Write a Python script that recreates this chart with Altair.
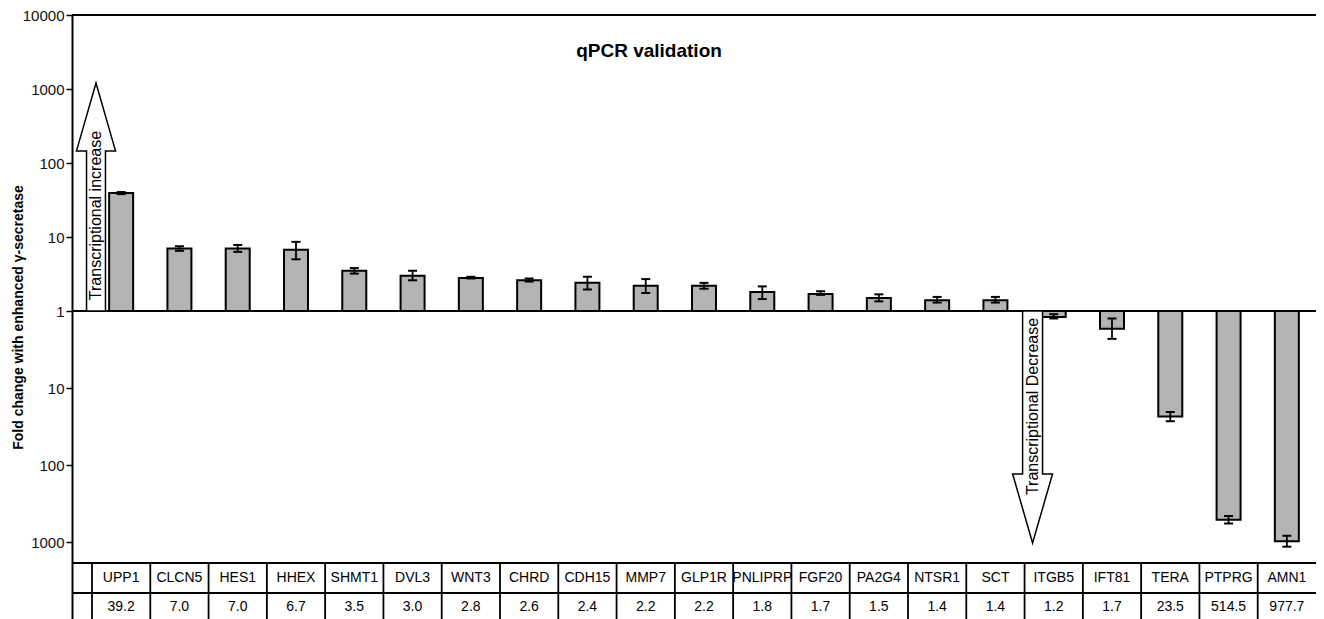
import math
import altair as alt
import pandas as pd

# ---------------- data ----------------
genes = ["UPP1", "CLCN5", "HES1", "HHEX", "SHMT1", "DVL3", "WNT3", "CHRD", "CDH15",
         "MMP7", "GLP1R", "PNLIPRP", "FGF20", "PA2G4", "NTSR1", "SCT", "ITGB5",
         "IFT81", "TERA", "PTPRG", "AMN1"]
fold = [39.2, 7.0, 7.0, 6.7, 3.5, 3.0, 2.8, 2.6, 2.4, 2.2, 2.2, 1.8, 1.7, 1.5, 1.4,
        1.4, 1.2, 1.7, 23.5, 514.5, 977.7]
direction = [1] * 16 + [-1] * 5          # 1 = increase, -1 = decrease
err_low = [38.0, 6.5, 6.3, 5.0, 3.2, 2.6, 2.75, 2.5, 1.95, 1.75, 2.0, 1.45, 1.65,
           1.35, 1.3, 1.3, 1.1, 1.25, 20.5, 460, 830]
err_high = [40.5, 7.5, 7.8, 8.6, 3.8, 3.5, 2.9, 2.75, 2.9, 2.7, 2.4, 2.15, 1.85,
            1.68, 1.55, 1.55, 1.25, 2.3, 27, 575, 1150]
tick_values = [4, 3, 2, 1, 0, -1, -2, -3]

df = pd.DataFrame({
    "gene": genes,
    "fold": fold,
    "y": [d * math.log10(v) for d, v in zip(direction, fold)],
    "ylo": [d * math.log10(v) for d, v in zip(direction, err_low)],
    "yhi": [d * math.log10(v) for d, v in zip(direction, err_high)],
    "label": [f"{v:.1f}" for v in fold],
})

# ---------------- layout ----------------
W, H = 1244, 604
FONT = "Liberation Sans"
Y_BOTTOM = -3.0 - (H - 296 - 231) / 77.0
TABLE_TOP = -3.273
ROW_DIV = -3.662
GENE_ROW = -3.468
VALUE_ROW = -3.85

x_scale = alt.Scale(domain=genes, range=[20, W], paddingInner=0, paddingOuter=0)
y_scale = alt.Scale(domain=[Y_BOTTOM, 0, 4], range=[H, 296, 0], nice=False, zero=False)

y_axis = alt.Axis(
    values=tick_values,
    labelExpr="'' + pow(10, abs(datum.value))",
    title="Fold change with enhanced \u03b3-secretase",
    grid=False, domainColor="black", domainWidth=2,
    tickColor="black", tickWidth=1.5, tickSize=6,
    labelFont=FONT, labelFontSize=15, labelColor="#111111", labelPadding=2,
    titleFont=FONT, titleFontSize=14, titleFontWeight="bold", titleColor="black",
    titlePadding=-3,
)

base = alt.Chart(df)

bars = base.mark_bar(size=24, fill="#b3b3b3", stroke="black", strokeWidth=2).encode(
    x=alt.X("gene:N", scale=x_scale, axis=None, sort=genes),
    y=alt.Y("y:Q", scale=y_scale, axis=y_axis),
    y2=alt.datum(0),
)

err_rule = base.mark_rule(color="black", strokeWidth=1.8).encode(
    x="gene:N", y="ylo:Q", y2="yhi:Q")
cap_lo = base.mark_tick(color="black", size=9, thickness=2, opacity=1).encode(
    x="gene:N", y="ylo:Q")
cap_hi = base.mark_tick(color="black", size=9, thickness=2, opacity=1).encode(
    x="gene:N", y="yhi:Q")

frame = alt.Chart(pd.DataFrame({"yy": [4, 0, TABLE_TOP, ROW_DIV]})).mark_rule(
    color="black", strokeWidth=2).encode(y="yy:Q")

vrules = base.mark_rule(color="black", strokeWidth=1.8).encode(
    x=alt.X("gene:N", bandPosition=0),
    y=alt.datum(TABLE_TOP), y2=alt.datum(Y_BOTTOM))

gene_text = base.mark_text(font=FONT, fontSize=14, color="black").encode(
    x="gene:N", y=alt.datum(GENE_ROW), text="gene:N")
value_text = base.mark_text(font=FONT, fontSize=14, color="black").encode(
    x="gene:N", y=alt.datum(VALUE_ROW), text="label:N")

# block arrows
up_path = ("M -0.083 1 L -0.083 -0.404 L -0.171 -0.404 L 0 -1 "
           "L 0.171 -0.404 L 0.083 -0.404 L 0.083 1 Z")
down_path = ("M -0.086 -1 L -0.086 0.405 L -0.172 0.405 L 0 1 "
             "L 0.172 0.405 L 0.086 0.405 L 0.086 -1 Z")

up_df = pd.DataFrame({"gene": ["UPP1"], "ya": [1.541], "yt": [1.29],
                      "t": ["Transcriptional increase"]})
down_df = pd.DataFrame({"gene": ["ITGB5"], "ya": [-1.506], "yt": [-1.24],
                        "t": ["Transcriptional Decrease"]})

up_arrow = alt.Chart(up_df).mark_point(
    shape=up_path, size=228 * 228, filled=True, fill="white", stroke="black",
    strokeWidth=1.5, opacity=1, fillOpacity=1, xOffset=4).encode(
    x=alt.X("gene:N", bandPosition=0), y="ya:Q")
up_text = alt.Chart(up_df).mark_text(
    angle=270, font=FONT, fontSize=16, color="black", align="center",
    baseline="middle", xOffset=4).encode(
    x=alt.X("gene:N", bandPosition=0), y="yt:Q", text="t:N")

down_arrow = alt.Chart(down_df).mark_point(
    shape=down_path, size=232 * 232, filled=True, fill="white", stroke="black",
    strokeWidth=1.5, opacity=1, fillOpacity=1, xOffset=8).encode(
    x=alt.X("gene:N", bandPosition=0), y="ya:Q")
down_text = alt.Chart(down_df).mark_text(
    angle=270, font=FONT, fontSize=16, color="black", align="center",
    baseline="middle", xOffset=8).encode(
    x=alt.X("gene:N", bandPosition=0), y="yt:Q", text="t:N")

title = alt.Chart(pd.DataFrame({"t": ["qPCR validation"]})).mark_text(
    font=FONT, fontSize=19, fontWeight="bold", color="black",
    align="center", baseline="middle").encode(
    x=alt.value(577), y=alt.value(36), text="t:N")

chart = alt.layer(
    bars, err_rule, cap_lo, cap_hi, frame, vrules, gene_text, value_text,
    up_arrow, up_text, down_arrow, down_text, title,
).properties(
    width=W, height=H,
    autosize=alt.AutoSizeParams(type="none"),
    padding={"left": 64, "top": 7, "right": 0, "bottom": 0},
    background="white",
).configure_view(strokeWidth=0)

chart.save("out.html", embed_options={"renderer": "svg", "actions": False})
